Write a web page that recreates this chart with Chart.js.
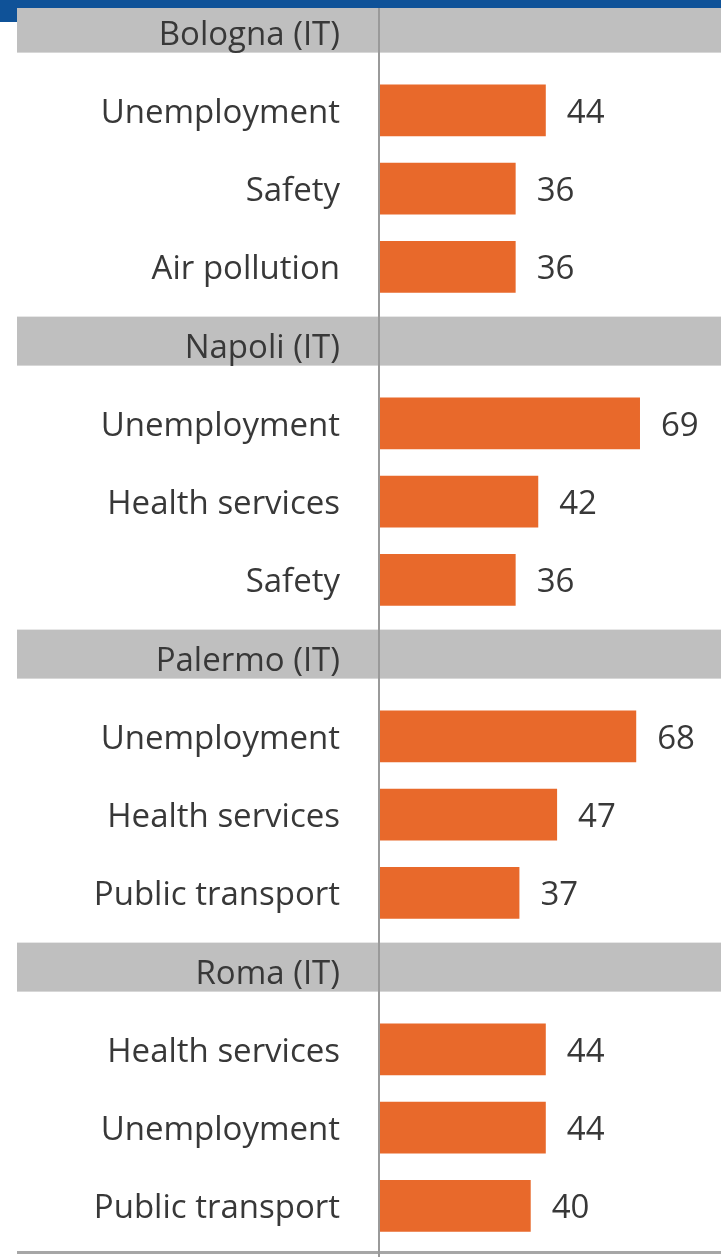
<!DOCTYPE html>
<html>
<head>
<meta charset="utf-8">
<script src="https://cdn.jsdelivr.net/npm/chart.js@4"></script>
<style>
  html, body { margin: 0; padding: 0; background: #fff; overflow: hidden; }
  body { width: 721px; height: 1257px; position: relative; }
  #wrap { position: absolute; left: 0; top: -7px; }
  .blue { position: absolute; background: #0f5298; }
</style>
</head>
<body>
<div id="wrap"><canvas id="issueChart" width="721" height="1264"></canvas></div>
<div class="blue" style="left:0;top:0;width:721px;height:8px"></div>
<div class="blue" style="left:0;top:0;width:17px;height:22px"></div>
<script>
const cities = ['Bologna (IT)', 'Napoli (IT)', 'Palermo (IT)', 'Roma (IT)'];
const issues = [
    ['Unemployment', 'Safety', 'Air pollution'],
    ['Unemployment', 'Health services', 'Safety'],
    ['Unemployment', 'Health services', 'Public transport'],
    ['Health services', 'Unemployment', 'Public transport']
];
const scores = [
    [44, 36, 36],
    [69, 42, 36],
    [68, 47, 37],
    [44, 44, 40]
];

const barColor = '#e8692b';
const textColor = '#383838';
const font = { family: "'Open Sans', sans-serif", size: 33 };

// header row per city, then its three issues
let labels = [];
let values = [];
let headerRows = [];
cities.forEach((city, c) => {
    headerRows.push(labels.length);
    labels.push(city);
    values.push(null);
    issues[c].forEach((name, k) => {
        labels.push(name);
        values.push(scores[c][k]);
    });
});

const bands = {
    id: 'bands',
    beforeDraw(chart) {
        const c = chart.ctx, y = chart.scales.y, area = chart.chartArea;
        c.save();
        c.fillStyle = '#bfbfbf';
        headerRows.forEach(i => {
            const py = y.getPixelForValue(i) - 4;
            c.fillRect(17, py - 24.5, chart.width - 17, 49);
        });
        // bottom rule
        c.fillStyle = '#a6a6a6';
        c.fillRect(17, area.bottom + 6, chart.width - 17, 3);
        c.restore();
    },
    beforeDatasetsDraw(chart) {
        const c = chart.ctx, x = chart.scales.x;
        c.save();
        c.fillStyle = '#9a9a9a';
        c.fillRect(x.getPixelForValue(0) - 2, 0, 2, chart.height);
        c.restore();
    },
    afterDatasetsDraw(chart) {
        const c = chart.ctx;
        const meta = chart.getDatasetMeta(0);
        c.save();
        c.fillStyle = textColor;
        c.font = font.size + 'px ' + font.family;
        c.textAlign = 'left';
        c.textBaseline = 'middle';
        meta.data.forEach((bar, i) => {
            if (values[i] == null) return;
            c.fillText(values[i], bar.x + 21, bar.y + 3);
        });
        c.restore();
    }
};

new Chart(document.getElementById('issueChart'), {
    type: 'bar',
    data: {
        labels: labels,
        datasets: [{
            data: values,
            backgroundColor: barColor,
            categoryPercentage: 1,
            barPercentage: 0.66
        }]
    },
    options: {
        indexAxis: 'y',
        responsive: false,
        animation: false,
        devicePixelRatio: 1,
        layout: { padding: { top: 0, right: 0, bottom: 12, left: 0 } },
        plugins: { legend: { display: false }, tooltip: { enabled: false } },
        scales: {
            x: { display: false, min: 0, max: 90.5 },
            y: {
                grid: { display: false },
                border: { display: false },
                ticks: { color: textColor, font: font, padding: 32, labelOffset: 3 },
                afterFit(scale) {
                    scale.width = 380;
                    scale.paddingTop = 0;
                    scale.paddingBottom = 0;
                }
            }
        }
    },
    plugins: [bands]
});
</script>
</body>
</html>
